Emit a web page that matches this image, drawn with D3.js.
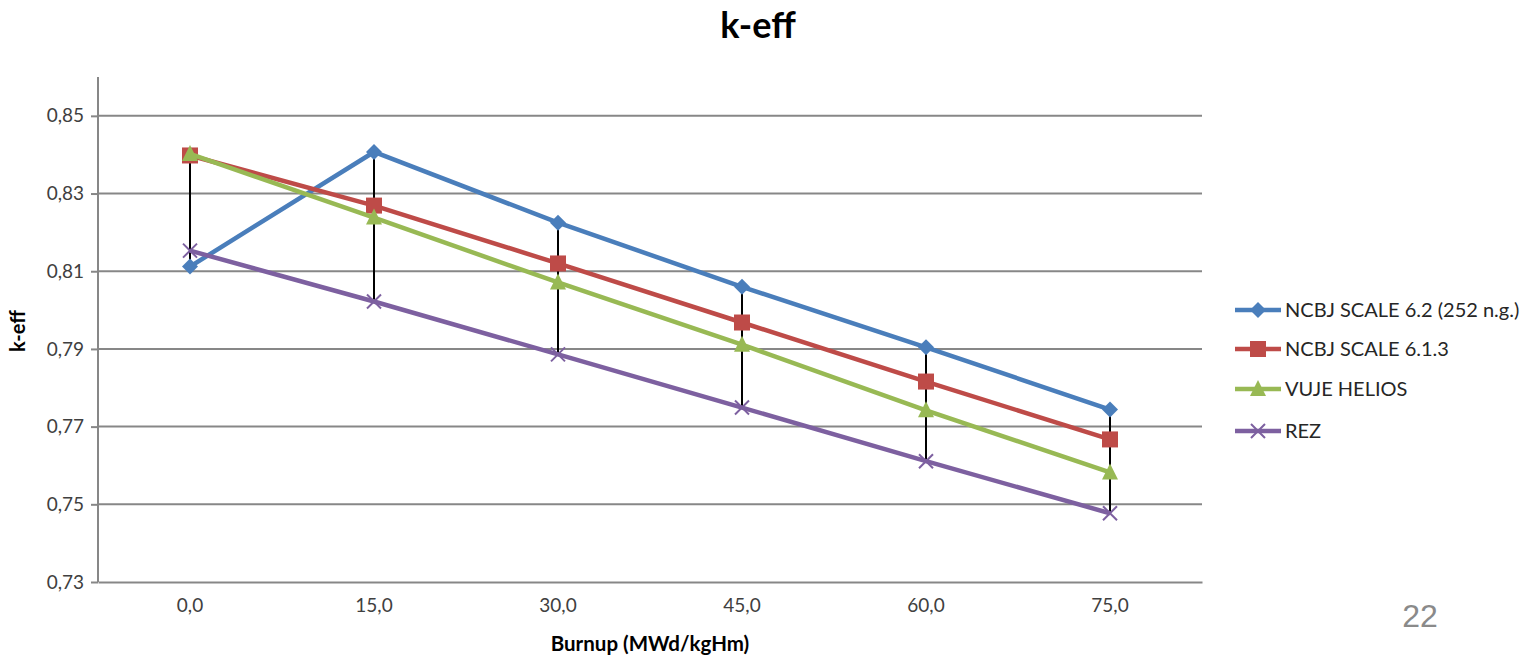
<!DOCTYPE html>
<html><head><meta charset="utf-8">
<script src="https://cdn.jsdelivr.net/npm/d3@7"></script>
<style>body{margin:0;background:#fff;}svg{display:block;font-family:Lato,"Open Sans",sans-serif;}</style>
</head><body>
<svg id="c" width="1529" height="659"></svg>
<script>
const categories = ["0,0","15,0","30,0","45,0","60,0","75,0"];
const seriesNames = ["NCBJ SCALE 6.2 (252 n.g.)","NCBJ SCALE 6.1.3","VUJE HELIOS","REZ"];
const ncbj62 = [0.8112,0.8407,0.8225,0.8060,0.7904,0.7744];
const ncbj613 = [0.8398,0.8269,0.8120,0.7968,0.7816,0.7667];
const vuje = [0.8402,0.8238,0.8071,0.7911,0.7742,0.7582];
const rez = [0.8153,0.8022,0.7886,0.7749,0.7611,0.7477];
const yTicks = [0.73,0.75,0.77,0.79,0.81,0.83,0.85];
const colors = ["#4A7EBB","#BE4B48","#98B954","#7D60A0"];
const markers = ["diamond","square","triangle","x"];
const allSeries = [ncbj62, ncbj613, vuje, rez];

const svg = d3.select("#c");
const L = 98, R = 1202, T = 77, B = 582;
const x = d3.scaleBand().domain(categories).range([L,R]);
const y = d3.scaleLinear().domain([0.73,0.86]).range([B,T]);
const cx = c => x(c) + x.bandwidth()/2;

// gridlines
svg.append("g").selectAll("line").data(yTicks.slice(1)).join("line")
  .attr("x1",L).attr("x2",R).attr("y1",d=>y(d)).attr("y2",d=>y(d))
  .attr("stroke","#878787").attr("stroke-width",2);

// y axis
const yAxis = svg.append("g").attr("transform",`translate(${L},0)`)
  .call(d3.axisLeft(y).tickValues(yTicks).tickSize(7).tickPadding(7).tickFormat(d=>d3.format(".2f")(d).replace(".",",")));
yAxis.select(".domain").attr("stroke","#878787").attr("stroke-width",2).attr("d",`M0,${T}V${B}`);
yAxis.selectAll(".tick line").attr("stroke","#878787").attr("stroke-width",2);
yAxis.selectAll("text").attr("font-size",19).attr("fill","#404040").attr("font-family","Lato");

// x axis
const xAxis = svg.append("g").attr("transform",`translate(0,${B})`)
  .call(d3.axisBottom(x).tickSize(0).tickPadding(17));
xAxis.select(".domain").attr("stroke","#878787").attr("stroke-width",2);
xAxis.selectAll("text").attr("font-size",19).attr("fill","#404040").attr("font-family","Lato");

// high-low lines
svg.append("g").selectAll("line").data(categories).join("line")
  .attr("x1",d=>cx(d)).attr("x2",d=>cx(d))
  .attr("y1",(d,i)=>y(d3.max(allSeries,s=>s[i])))
  .attr("y2",(d,i)=>y(d3.min(allSeries,s=>s[i])))
  .attr("stroke","#000").attr("stroke-width",2);

function drawMarker(g, type, color, px, py){
  if(type==="diamond"){
    g.append("path").attr("d",`M${px},${py-8}L${px+8},${py}L${px},${py+8}L${px-8},${py}Z`).attr("fill",color);
  } else if(type==="square"){
    g.append("rect").attr("x",px-8).attr("y",py-8).attr("width",16).attr("height",16).attr("fill",color);
  } else if(type==="triangle"){
    g.append("path").attr("d",`M${px},${py-9}L${px+8},${py+7}L${px-8},${py+7}Z`).attr("fill",color);
  } else {
    g.append("path").attr("d",`M${px-7},${py-7}L${px+7},${py+7}M${px-7},${py+7}L${px+7},${py-7}`).attr("stroke",color).attr("stroke-width",2);
  }
}

const line = d3.line().x((d,i)=>cx(categories[i])).y(d=>y(d));
allSeries.forEach((s,k)=>{
  const g = svg.append("g");
  g.append("path").datum(s).attr("d",line).attr("fill","none").attr("stroke",colors[k]).attr("stroke-width",4.5).attr("stroke-linejoin","round");
  s.forEach((v,i)=>drawMarker(g, markers[k], colors[k], cx(categories[i]), y(v)));
});

// legend
const legY = [310,349,389,431];
seriesNames.forEach((n,k)=>{
  const g = svg.append("g");
  g.append("line").attr("x1",1235).attr("x2",1281).attr("y1",legY[k]).attr("y2",legY[k]).attr("stroke",colors[k]).attr("stroke-width",4.5);
  drawMarker(g, markers[k], colors[k], 1258, legY[k]);
  g.append("text").attr("x",1285).attr("y",legY[k]).attr("dy","0.35em").attr("font-size",20).attr("fill","#262626").text(n);
});

// titles
svg.append("text").attr("x",758).attr("y",38).attr("text-anchor","middle").attr("font-size",36).attr("font-weight","bold").attr("fill","#000").text("k-eff");
svg.append("text").attr("transform","translate(25,331) rotate(-90)").attr("text-anchor","middle").attr("font-size",20).attr("font-weight","bold").attr("fill","#000").text("k-eff");
svg.append("text").attr("x",650).attr("y",651).attr("text-anchor","middle").attr("font-size",20.5).attr("font-weight","bold").attr("fill","#000").text("Burnup (MWd/kgHm)");
svg.append("text").attr("x",1420).attr("y",627).attr("text-anchor","middle").attr("font-size",32).attr("font-family","Liberation Sans").attr("fill","#8a8a8a").text("22");
</script>
</body></html>
